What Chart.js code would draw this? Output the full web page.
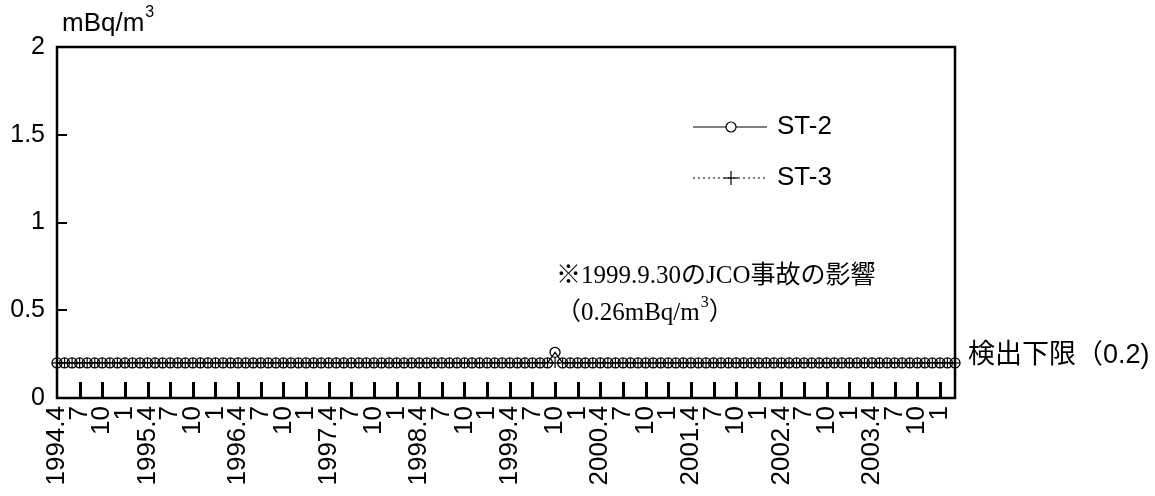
<!DOCTYPE html>
<html>
<head>
<meta charset="utf-8">
<script src="https://cdn.jsdelivr.net/npm/chart.js@4.4.1/dist/chart.umd.min.js"></script>
<style>body{margin:0;background:#fff}</style>
</head>
<body>
<canvas id="jcoChart" width="1155" height="496"></canvas>
<script>
// monthly categories, 1994.4 .. 2004.3
var months = [];
for (var k = 0; k < 120; k++) {
  var mo = (3 + k) % 12 + 1;
  var yr = 1994 + Math.floor((3 + k) / 12);
  months.push(yr + "." + mo);
}

// labels shown at every quarter
var quarterLabels = [
  "1994.4", "7", "10", "1", "1995.4", "7", "10", "1", "1996.4", "7", "10", "1",
  "1997.4", "7", "10", "1", "1998.4", "7", "10", "1", "1999.4", "7", "10", "1",
  "2000.4", "7", "10", "1", "2001.4", "7", "10", "1", "2002.4", "7", "10", "1",
  "2003.4", "7", "10", "1"
];

// ST-2 (mBq/m3), one row per fiscal year Apr..Mar
var st2 = [
  0.2, 0.2, 0.2, 0.2, 0.2, 0.2, 0.2, 0.2, 0.2, 0.2, 0.2, 0.2,
  0.2, 0.2, 0.2, 0.2, 0.2, 0.2, 0.2, 0.2, 0.2, 0.2, 0.2, 0.2,
  0.2, 0.2, 0.2, 0.2, 0.2, 0.2, 0.2, 0.2, 0.2, 0.2, 0.2, 0.2,
  0.2, 0.2, 0.2, 0.2, 0.2, 0.2, 0.2, 0.2, 0.2, 0.2, 0.2, 0.2,
  0.2, 0.2, 0.2, 0.2, 0.2, 0.2, 0.2, 0.2, 0.2, 0.2, 0.2, 0.2,
  0.2, 0.2, 0.2, 0.2, 0.2, 0.2, 0.26, 0.2, 0.2, 0.2, 0.2, 0.2,
  0.2, 0.2, 0.2, 0.2, 0.2, 0.2, 0.2, 0.2, 0.2, 0.2, 0.2, 0.2,
  0.2, 0.2, 0.2, 0.2, 0.2, 0.2, 0.2, 0.2, 0.2, 0.2, 0.2, 0.2,
  0.2, 0.2, 0.2, 0.2, 0.2, 0.2, 0.2, 0.2, 0.2, 0.2, 0.2, 0.2,
  0.2, 0.2, 0.2, 0.2, 0.2, 0.2, 0.2, 0.2, 0.2, 0.2, 0.2, 0.2
];

// ST-3 (mBq/m3)
var st3 = [
  0.2, 0.2, 0.2, 0.2, 0.2, 0.2, 0.2, 0.2, 0.2, 0.2, 0.2, 0.2,
  0.2, 0.2, 0.2, 0.2, 0.2, 0.2, 0.2, 0.2, 0.2, 0.2, 0.2, 0.2,
  0.2, 0.2, 0.2, 0.2, 0.2, 0.2, 0.2, 0.2, 0.2, 0.2, 0.2, 0.2,
  0.2, 0.2, 0.2, 0.2, 0.2, 0.2, 0.2, 0.2, 0.2, 0.2, 0.2, 0.2,
  0.2, 0.2, 0.2, 0.2, 0.2, 0.2, 0.2, 0.2, 0.2, 0.2, 0.2, 0.2,
  0.2, 0.2, 0.2, 0.2, 0.2, 0.2, 0.2, 0.2, 0.2, 0.2, 0.2, 0.2,
  0.2, 0.2, 0.2, 0.2, 0.2, 0.2, 0.2, 0.2, 0.2, 0.2, 0.2, 0.2,
  0.2, 0.2, 0.2, 0.2, 0.2, 0.2, 0.2, 0.2, 0.2, 0.2, 0.2, 0.2,
  0.2, 0.2, 0.2, 0.2, 0.2, 0.2, 0.2, 0.2, 0.2, 0.2, 0.2, 0.2,
  0.2, 0.2, 0.2, 0.2, 0.2, 0.2, 0.2, 0.2, 0.2, 0.2, 0.2, 0.2
];

var yTicks = [0, 0.5, 1, 1.5, 2];
var yTickLabels = ["0", "0.5", "1", "1.5", "2"];
var detectionLimit = 0.2;

var sans = '"Liberation Sans", Arial, sans-serif';
var jpSans = '"Liberation Sans", "Noto Sans CJK JP", sans-serif';
var jpSerif = '"Liberation Serif", "Noto Sans CJK JP", serif';

function supText(ctx, x, y, base, sup, size, font) {
  ctx.font = size + "px " + font;
  ctx.fillText(base, x, y);
  var w = ctx.measureText(base).width;
  ctx.font = Math.round(size * 0.62) + "px " + font;
  ctx.fillText(sup, x + w + 1, y - size * 0.42);
  return x + w + 1 + ctx.measureText(sup).width;
}

function seg(ctx, x0, y0, x1, y1) {
  ctx.beginPath();
  ctx.moveTo(x0, y0);
  ctx.lineTo(x1, y1);
  ctx.stroke();
}

var framePlugin = {
  id: "frame",
  afterDraw: function (chart) {
    var ctx = chart.ctx, a = chart.chartArea;
    var ys = chart.scales.y;
    var pts = chart.getDatasetMeta(0).data;
    ctx.save();
    ctx.setLineDash([]);
    ctx.strokeStyle = "#000";
    ctx.fillStyle = "#000";

    // inward ticks: every quarter on the bottom, major values on the left
    var bottom = Math.round(a.bottom);
    for (var t = 3; t < pts.length; t += 3) {
      ctx.fillRect(Math.round(pts[t].x) - 1, bottom - 16, 3, 16);
    }
    for (var u = 1; u < yTicks.length - 1; u++) {
      var py = Math.round(ys.getPixelForValue(yTicks[u]));
      ctx.fillRect(a.left, py - 1, 10, 2);
    }

    // box
    ctx.lineWidth = 2.5;
    ctx.strokeRect(a.left, a.top, a.right - a.left, a.bottom - a.top);

    // unit
    ctx.textBaseline = "middle";
    ctx.textAlign = "left";
    supText(ctx, a.left + 5, 24, "mBq/m", "3", 26, sans);

    // legend
    var ds = chart.data.datasets;
    var rows = [127, 178];
    ds.forEach(function (d, j) {
      var ly = rows[j];
      ctx.lineWidth = 1.2;
      ctx.setLineDash(d.borderDash || []);
      seg(ctx, 693, ly, 767, ly);
      ctx.setLineDash([]);
      if (d.pointStyle === "circle") {
        ctx.beginPath();
        ctx.fillStyle = "#fff";
        ctx.arc(731, ly, 5, 0, Math.PI * 2);
        ctx.fill();
        ctx.stroke();
      } else {
        seg(ctx, 724, ly, 738, ly);
        seg(ctx, 731, ly - 7, 731, ly + 7);
      }
      ctx.fillStyle = "#000";
      ctx.font = "26px " + sans;
      ctx.fillText(d.label, 777, ly);
    });

    // JCO note
    ctx.font = "25px " + jpSerif;
    ctx.fillText("※1999.9.30のJCO事故の影響", 556, 276);
    var ex = supText(ctx, 556, 313, "（0.26mBq/m", "3", 25, jpSerif);
    ctx.font = "25px " + jpSerif;
    ctx.fillText("）", ex, 313);

    // detection limit
    ctx.font = "27px " + jpSans;
    ctx.fillText("検出下限（0.2)", a.right + 13, ys.getPixelForValue(detectionLimit) - 7);
    ctx.restore();
  }
};

new Chart(document.getElementById("jcoChart"), {
  type: "line",
  data: {
    labels: months,
    datasets: [{
      label: "ST-2",
      data: st2,
      borderColor: "#000",
      borderWidth: 1.2,
      pointStyle: "circle",
      pointRadius: 5,
      pointBorderWidth: 1.3,
      pointBorderColor: "#000",
      pointBackgroundColor: "rgba(0,0,0,0)",
      clip: false
    }, {
      label: "ST-3",
      data: st3,
      borderColor: "#000",
      borderWidth: 1.2,
      borderDash: [2, 3],
      pointStyle: "cross",
      pointRadius: 5,
      pointBorderWidth: 1.2,
      pointBorderColor: "#000",
      clip: false
    }]
  },
  options: {
    responsive: false,
    animation: false,
    events: [],
    layout: { padding: { top: 47, right: 200, left: 0, bottom: 0 } },
    plugins: { legend: { display: false }, tooltip: { enabled: false } },
    scales: {
      x: {
        type: "category",
        offset: false,
        grid: { display: false, drawTicks: false },
        border: { display: false },
        afterFit: function (s) { s.height = 98; },
        ticks: {
          autoSkip: false,
          minRotation: 90,
          maxRotation: 90,
          padding: 8,
          color: "#000",
          font: { family: sans, size: 26 },
          callback: function (v, i) { return i % 3 === 0 ? quarterLabels[i / 3] : ""; }
        }
      },
      y: {
        min: 0,
        max: 2,
        grid: { display: false, drawTicks: false },
        border: { display: false },
        afterFit: function (s) { s.width = 57; },
        afterBuildTicks: function (s) { s.ticks = yTicks.map(function (v) { return { value: v }; }); },
        ticks: {
          padding: 12,
          color: "#000",
          font: { family: sans, size: 25 },
          callback: function (v, i) { return yTickLabels[i]; }
        }
      }
    }
  },
  plugins: [framePlugin]
});
</script>
</body>
</html>
